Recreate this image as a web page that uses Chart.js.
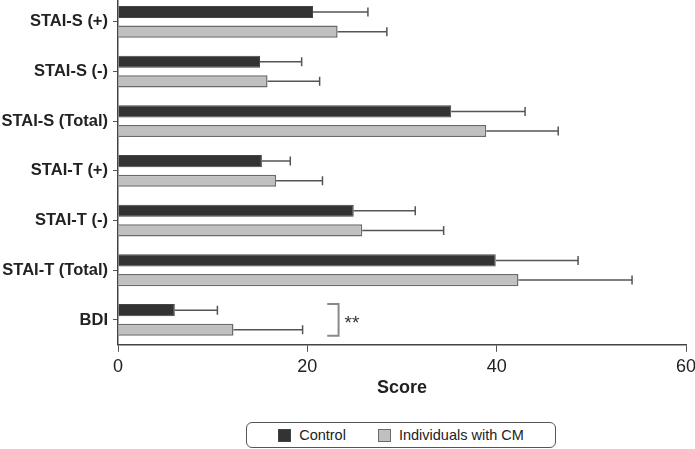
<!DOCTYPE html>
<html>
<head>
<meta charset="utf-8">
<script src="https://cdn.jsdelivr.net/npm/chart.js@4/dist/chart.umd.min.js"></script>
<style>
  html, body { margin: 0; padding: 0; background: #fff; }
  body { width: 695px; height: 449px; position: relative; overflow: hidden; font-family: "Liberation Sans", Arial, sans-serif; }
  #wrap { position: absolute; left: 0; top: -3px; width: 695px; height: 402px; }
  #legend {
    position: absolute; left: 246px; top: 422px; width: 308px; height: 24px;
    border: 1px solid #555; border-radius: 6px;
    display: flex; align-items: center; justify-content: center;
    font-size: 14.5px; color: #222;
  }
  #legend span.item { display: flex; align-items: center; }
  #legend span.box { display: inline-block; width: 11px; height: 11px; margin-right: 8px; }
</style>
</head>
<body>
<div id="wrap"><canvas id="chart"></canvas></div>
<div id="legend"></div>
<script>
// dados
const categorias = ['STAI-S (+)', 'STAI-S (-)', 'STAI-S (Total)', 'STAI-T (+)', 'STAI-T (-)', 'STAI-T (Total)', 'BDI'];
const controle = [20.6, 15.0, 35.2, 15.2, 24.9, 39.9, 6.0];
const controleDP = [5.8, 4.4, 7.8, 3.0, 6.5, 8.7, 4.5];
const comCM = [23.2, 15.8, 38.9, 16.7, 25.8, 42.3, 12.2];
const comCMDP = [5.2, 5.5, 7.6, 4.9, 8.6, 12.0, 7.3];
const xTicks = [0, 20, 40, 60];
const signif = { categoria: 'BDI', de: 22.1, ate: 23.3, texto: '**' };

const fonte = '"Liberation Sans", Arial, sans-serif';

// desenha as barras de erro (so o lado positivo) e o colchete de significancia
const errorBars = {
  id: 'errorBars',
  afterDatasetsDraw(chart) {
    const ctx = chart.ctx;
    const x = chart.scales.x;
    ctx.save();
    ctx.strokeStyle = '#555';
    ctx.lineWidth = 1.5;
    chart.data.datasets.forEach((ds, di) => {
      const meta = chart.getDatasetMeta(di);
      meta.data.forEach((bar, i) => {
        const x0 = x.getPixelForValue(ds.data[i]);
        const x1 = x.getPixelForValue(ds.data[i] + ds.sd[i]);
        ctx.beginPath();
        ctx.moveTo(x0, bar.y);
        ctx.lineTo(x1, bar.y);
        ctx.moveTo(x1, bar.y - 4.5);
        ctx.lineTo(x1, bar.y + 4.5);
        ctx.stroke();
      });
    });

    const idx = chart.data.labels.indexOf(signif.categoria);
    const b0 = chart.getDatasetMeta(0).data[idx];
    const b1 = chart.getDatasetMeta(1).data[idx];
    const top = b0.y - b0.height / 2;
    const bottom = b1.y + b1.height / 2;
    const xa = x.getPixelForValue(signif.de);
    const xb = x.getPixelForValue(signif.ate);
    ctx.strokeStyle = '#8a8a8a';
    ctx.lineWidth = 2;
    ctx.beginPath();
    ctx.moveTo(xa, top);
    ctx.lineTo(xb, top);
    ctx.lineTo(xb, bottom);
    ctx.lineTo(xa, bottom);
    ctx.stroke();
    ctx.fillStyle = '#333';
    ctx.font = '19px ' + fonte;
    ctx.textBaseline = 'alphabetic';
    ctx.textAlign = 'left';
    ctx.fillText(signif.texto, xb + 6, (top + bottom) / 2 + 9);
    ctx.restore();
  }
};

const ctx = document.getElementById('chart').getContext('2d');
const chart = new Chart(ctx, {
  type: 'bar',
  data: {
    labels: categorias,
    datasets: [{
      label: 'Control',
      data: controle,
      sd: controleDP,
      backgroundColor: '#333333',
      borderColor: '#444444',
      borderWidth: 1
    }, {
      label: 'Individuals with CM',
      data: comCM,
      sd: comCMDP,
      backgroundColor: '#c0c0c0',
      borderColor: '#6a6a6a',
      borderWidth: 1.5
    }]
  },
  options: {
    indexAxis: 'y',
    responsive: true,
    maintainAspectRatio: false,
    animation: false,
    categoryPercentage: 0.79,
    barPercentage: 0.62,
    layout: { padding: { left: 0, right: 9, top: 0, bottom: 0 } },
    plugins: {
      legend: { display: false },
      tooltip: { enabled: false }
    },
    scales: {
      x: {
        min: 0,
        max: 60,
        afterBuildTicks: scale => { scale.ticks = xTicks.map(v => ({ value: v })); },
        afterFit: scale => { scale.paddingLeft = 0; scale.paddingRight = 0; },
        grid: { drawOnChartArea: false, drawTicks: true, tickLength: 7, color: '#555', lineWidth: 1 },
        border: { display: true, color: '#444', width: 1.5 },
        ticks: { color: '#222', font: { family: fonte, size: 18 }, padding: 4 },
        title: { display: true, text: 'Score', color: '#222', font: { family: fonte, size: 18, weight: 'bold' }, padding: { top: -4, bottom: 0 } }
      },
      y: {
        afterFit: scale => { scale.width = 118; scale.paddingTop = 0; scale.paddingBottom = 0; },
        grid: { drawOnChartArea: false, drawTicks: true, tickLength: 5, offset: false, color: '#555', lineWidth: 1 },
        border: { display: true, color: '#444', width: 1.5 },
        ticks: { color: '#222', font: { family: fonte, size: 16.5, weight: 'bold' }, padding: 5 }
      }
    }
  },
  plugins: [errorBars]
});

// legenda em HTML a partir dos datasets
const legenda = document.getElementById('legend');
chart.data.datasets.forEach((ds, i) => {
  const item = document.createElement('span');
  item.className = 'item';
  if (i > 0) item.style.marginLeft = '32px';
  const box = document.createElement('span');
  box.className = 'box';
  box.style.background = ds.backgroundColor;
  box.style.border = '1px solid ' + ds.borderColor;
  item.appendChild(box);
  item.appendChild(document.createTextNode(ds.label));
  legenda.appendChild(item);
});
</script>
</body>
</html>
